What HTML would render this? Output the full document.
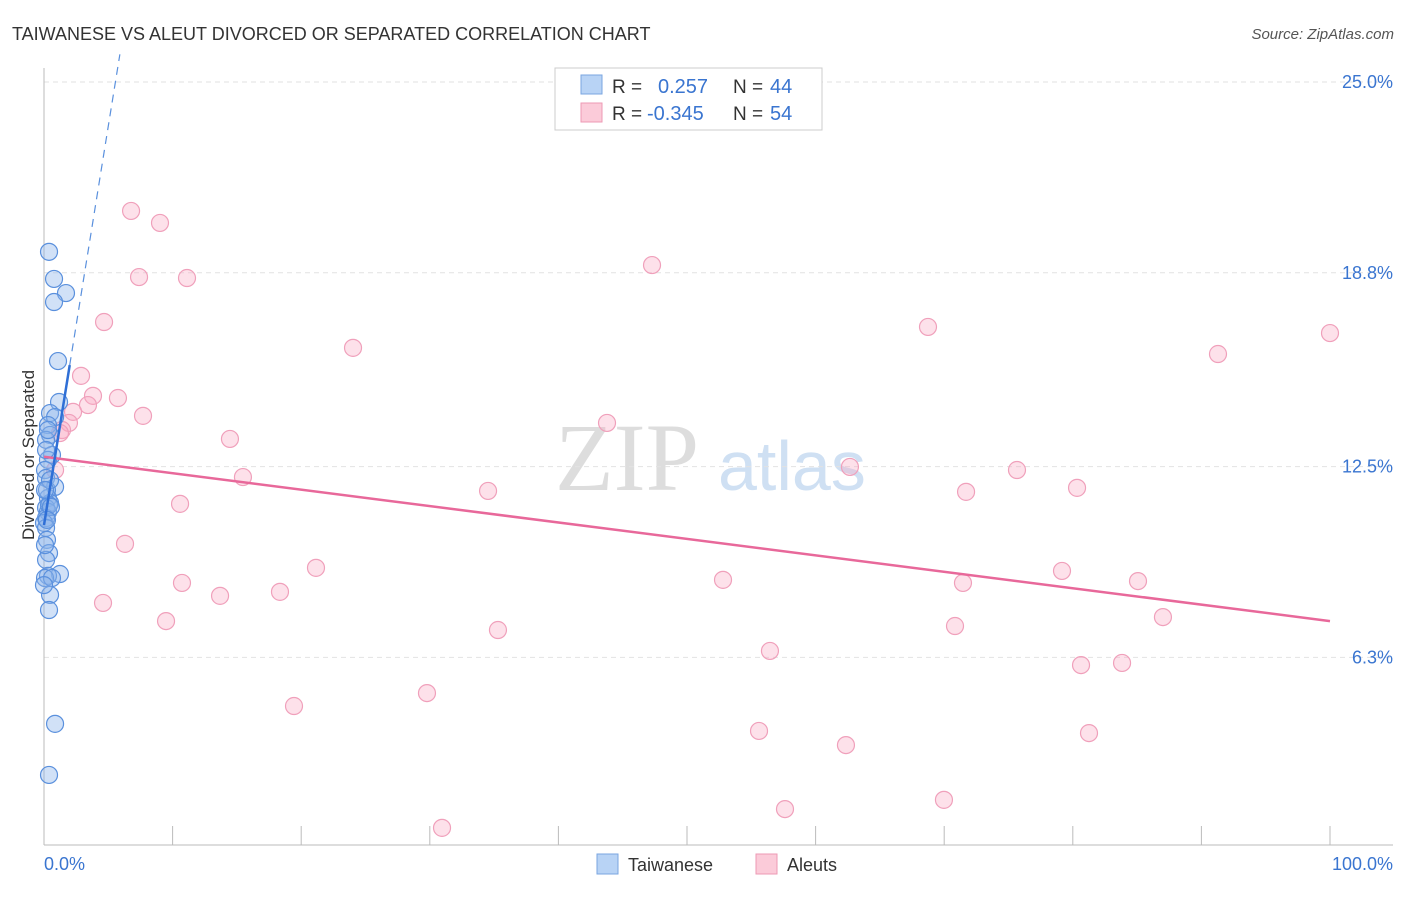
<!DOCTYPE html>
<html><head><meta charset="utf-8"><style>
body{margin:0;background:#fff;font-family:"Liberation Sans",sans-serif;}
</style></head><body>
<svg id="chart" width="1406" height="892" xmlns="http://www.w3.org/2000/svg" font-family="Liberation Sans, sans-serif">
<text x="12" y="40" font-size="18" fill="#333">TAIWANESE VS ALEUT DIVORCED OR SEPARATED CORRELATION CHART</text>
<text x="1394" y="39" font-size="15" fill="#555" text-anchor="end" font-style="italic">Source: ZipAtlas.com</text>
<text x="555" y="490" font-size="96" fill="#ddd" font-family="Liberation Serif, serif">ZIP</text>
<text x="718" y="490" font-size="70" fill="#cfe0f3">atlas</text>
<g id="grid"></g><g id="axes"></g><g id="marks"></g>
<text transform="translate(34,455) rotate(-90)" font-size="17" fill="#333" text-anchor="middle">Divorced or Separated</text>
<g>
<rect x="555" y="68" width="267" height="62" fill="#fff" stroke="#ccc"/>
<rect x="581" y="75" width="21" height="19" fill="#b8d3f5" stroke="#7aa6e0"/>
<rect x="581" y="103" width="21" height="19" fill="#fbcbd9" stroke="#ee9ab4"/>
<text x="612" y="93" font-size="19" fill="#333">R =</text><text x="658" y="93" font-size="20" fill="#3a75d0">0.257</text>
<text x="733" y="93" font-size="19" fill="#333">N =</text><text x="770" y="93" font-size="20" fill="#3a75d0">44</text>
<text x="612" y="120" font-size="19" fill="#333">R =</text><text x="647" y="120" font-size="20" fill="#3a75d0">-0.345</text>
<text x="733" y="120" font-size="19" fill="#333">N =</text><text x="770" y="120" font-size="20" fill="#3a75d0">54</text>
</g>
<g>
<rect x="597" y="854" width="21" height="20" fill="#b8d3f5" stroke="#7aa6e0"/>
<text x="628" y="871" font-size="18" fill="#333">Taiwanese</text>
<rect x="756" y="854" width="21" height="20" fill="#fbcbd9" stroke="#ee9ab4"/>
<text x="787" y="871" font-size="18" fill="#333">Aleuts</text>
</g>
</svg>
<script>
const blueX=[0.39,0.78,1.71,0.78,1.09,1.17,0.47,0.86,0.31,0.47,0.16,0.62,0.31,0.08,0.16,0.86,0.31,0.47,0.16,0.31,0.16,0,0.16,0.23,0.39,0.16,1.24,0.31,0.08,0.47,0.39,0.86,0.39,0.08,0.23,0.47,0.16,0.39,0.54,0.23,0.62,0,0.08,0.31];
const blueY=[19.48,18.60,18.14,17.85,15.93,14.60,14.24,14.11,13.85,13.53,13.37,12.88,12.72,12.39,12.13,11.84,11.48,11.32,11.16,11.03,10.83,10.67,10.51,10.12,9.69,9.47,9.01,8.95,8.88,8.33,7.84,4.14,2.48,9.95,11.74,12.06,13.04,11.25,11.19,10.77,8.88,8.65,11.74,13.69];
const pinkX=[6.77,9.02,7.39,11.12,47.28,4.67,68.74,100,91.29,24.03,2.88,3.81,5.75,3.42,7.70,2.26,1.94,1.40,43.78,14.46,0.86,62.67,75.66,15.47,80.33,34.53,71.70,10.58,6.30,21.15,79.16,52.80,10.73,85.07,71.46,18.35,13.69,4.59,87.01,9.49,70.84,35.30,56.45,80.64,83.83,29.78,19.44,55.60,81.26,62.36,69.98,57.62,30.95,1.24];
const pinkY=[20.81,20.42,18.66,18.63,19.05,17.20,17.04,16.84,16.16,16.36,15.45,14.80,14.73,14.50,14.15,14.28,13.92,13.69,13.92,13.40,12.39,12.49,12.39,12.16,11.81,11.71,11.68,11.29,9.99,9.21,9.11,8.82,8.72,8.78,8.72,8.43,8.30,8.07,7.61,7.48,7.32,7.19,6.51,6.05,6.12,5.14,4.72,3.91,3.84,3.45,1.67,1.37,0.76,13.59];
const yTicks=[25,18.8,12.5,6.3];
const yTickLabels=["25.0%","18.8%","12.5%","6.3%"];
const xTicks=[0,10,20,30,40,50,60,70,80,90,100];
const pinkTrend=[[0,12.82],[100,7.48]];
const blueTrend=[[0,10.6],[2.0,15.8]];
const blueDash=[[2.0,15.8],[5.9,25.9]];
const NS="http://www.w3.org/2000/svg";
const X=v=>44+v*12.86, Y=v=>82+(25-v)*30.77;
function mk(t,a,p){const e=document.createElementNS(NS,t);for(const k in a)e.setAttribute(k,a[k]);p.appendChild(e);return e;}
const grid=document.getElementById('grid'),axes=document.getElementById('axes'),marks=document.getElementById('marks');
yTicks.forEach((t,i)=>{const l=mk('line',{x1:44,x2:1393,y1:Y(t),y2:Y(t),stroke:'#e2e2e2','stroke-dasharray':'5,4'},grid);

const tx=mk('text',{x:1393,y:Y(t)+6,'font-size':18,fill:'#3a75d0','text-anchor':'end'},axes);tx.textContent=yTickLabels[i];
});
const ax=mk('line',{x1:44,x2:44,y1:68,y2:845,stroke:'#bbb'},axes);
const bx=mk('line',{x1:44,x2:1393,y1:845,y2:845,stroke:'#bbb'},axes);
xTicks.forEach(t=>{const l=mk('line',{x1:X(t),x2:X(t),y1:826,y2:845,stroke:'#bbb'},axes);});
const xl0=mk('text',{x:44,y:870,'font-size':18,fill:'#3a75d0'},axes);xl0.textContent='0.0%';
const xl1=mk('text',{x:1393,y:870,'font-size':18,fill:'#3a75d0','text-anchor':'end'},axes);xl1.textContent='100.0%';
pinkX.forEach((v,i)=>{const c=mk('circle',{cx:X(v),cy:Y(pinkY[i]),r:8.5,fill:'rgba(248,170,196,0.35)',stroke:'#f0a0bb','stroke-width':1.2},marks);
});
blueX.forEach((v,i)=>{const c=mk('circle',{cx:X(v),cy:Y(blueY[i]),r:8.5,fill:'rgba(140,180,235,0.4)',stroke:'#5a90dd','stroke-width':1.2},marks);
});
const pl=mk('line',{x1:X(pinkTrend[0][0]),y1:Y(pinkTrend[0][1]),x2:X(pinkTrend[1][0]),y2:Y(pinkTrend[1][1]),stroke:'#e8689a','stroke-width':2.5},marks);

const bl=mk('line',{x1:X(blueTrend[0][0]),y1:Y(blueTrend[0][1]),x2:X(blueTrend[1][0]),y2:Y(blueTrend[1][1]),stroke:'#2f6fd6','stroke-width':2.5},marks);

const bd=mk('line',{x1:X(blueDash[0][0]),y1:Y(blueDash[0][1]),x2:X(blueDash[1][0]),y2:Y(blueDash[1][1]),stroke:'#5a90dd','stroke-width':1.2,'stroke-dasharray':'8,6'},marks);

</script>
</body></html>
